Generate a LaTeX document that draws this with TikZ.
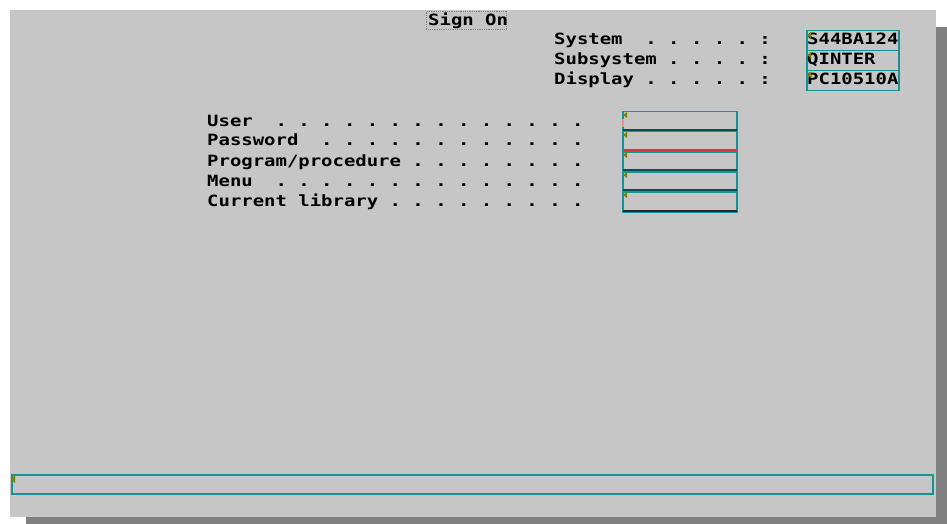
\documentclass[tikz,border=0pt]{standalone}
\usepackage{fontspec}
\newfontfamily\scr{DejaVu Sans Mono}[FakeStretch=1.222]
\definecolor{panel}{RGB}{198,198,198}
\definecolor{shadowc}{RGB}{128,128,128}
\definecolor{tealc}{RGB}{20,148,148}
\definecolor{darkteal}{RGB}{0,82,82}
\definecolor{olivec}{RGB}{128,128,0}
\definecolor{redc}{RGB}{220,52,52}
\definecolor{pinkc}{RGB}{240,140,140}
\begin{document}
\begin{tikzpicture}[x=1pt,y=-1pt,
  txt/.style={anchor=base west,inner sep=0pt,font=\scr\bfseries\fontsize{15.5pt}{18pt}\selectfont\frenchspacing,text=black},
  field/.style={draw=tealc,line width=1.5pt,anchor=north west,inner sep=0pt,minimum height=20pt},
  cursormark/.style={fill=olivec},
]
\useasboundingbox (0,0) rectangle (947,524);
\fill[white] (0,0) rectangle (947,524);
\fill[shadowc] (26,27) rectangle (947,524);
\fill[panel] (10,10) rectangle (936,517);

% title
\node[draw=shadowc,densely dotted,line width=0.8pt,anchor=north west,minimum width=80pt,minimum height=18pt,inner sep=0pt] (titlebox) at (426,11) {};
\node[txt] (title) at (428,26) {Sign~On};

% system info
\node[txt] (lsys) at (554,45) {System~~.~.~.~.~.~:};
\node[txt] (lsub) at (554,65) {Subsystem~.~.~.~.~:};
\node[txt] (ldis) at (554,85) {Display~.~.~.~.~.~:};
\node[field,minimum width=92pt] (fsys) at (806,30) {};
\node[field,minimum width=92pt] (fsub) at (806,50) {};
\node[field,minimum width=92pt] (fdis) at (806,70) {};
\node[txt] (vsys) at (807,45) {S44BA124};
\node[txt] (vsub) at (807,65) {QINTER};
\node[txt] (vdis) at (807,85) {PC10510A};
\foreach \yy in {31,51,71}{\fill[cursormark] (807,\yy+4) -- (811,\yy+1) -- (811,\yy+7) -- cycle;}

% sign-on fields
\node[txt] (luser) at (207,126) {User~~.~.~.~.~.~.~.~.~.~.~.~.~.~.};
\node[txt] (lpass) at (207,146) {Password~~.~.~.~.~.~.~.~.~.~.~.~.};
\node[txt] (lprog) at (207,166) {Program/procedure~.~.~.~.~.~.~.~.};
\node[txt] (lmenu) at (207,186) {Menu~~.~.~.~.~.~.~.~.~.~.~.~.~.~.};
\node[txt] (llib) at (207,206) {Current~library~.~.~.~.~.~.~.~.~.};

\node[field,minimum width=114pt] (fuser) at (622,111) {};
\node[field,minimum width=114pt] (fpass) at (622,131) {};
\node[field,minimum width=114pt] (fprog) at (622,151) {};
\node[field,minimum width=114pt] (fmenu) at (622,171) {};
\node[field,minimum width=114pt] (flib) at (622,191) {};

\draw[darkteal,line width=2.5pt] ([xshift=1pt,yshift=2.5pt]fuser.south west) -- ([xshift=-1pt,yshift=2.5pt]fuser.south east);
\draw[redc,line width=2pt] ([xshift=1pt,yshift=2.5pt]fpass.south west) -- ([xshift=-1pt,yshift=2.5pt]fpass.south east);
\draw[darkteal,line width=2.5pt] ([xshift=1pt,yshift=2.5pt]fprog.south west) -- ([xshift=-1pt,yshift=2.5pt]fprog.south east);
\draw[darkteal,line width=2.5pt] ([xshift=1pt,yshift=2.5pt]fmenu.south west) -- ([xshift=-1pt,yshift=2.5pt]fmenu.south east);
\draw[black!85,line width=2pt] ([xshift=1pt,yshift=2pt]flib.south west) -- ([xshift=-1pt,yshift=2pt]flib.south east);
\draw[pinkc,line width=1.5pt] (622.8,119) -- (622.8,127);
\foreach \yy in {111,131,151,171,191}{\fill[cursormark] (623,\yy+4) -- (627,\yy+1) -- (627,\yy+7) -- cycle;}

% message line
\node[field,minimum width=921pt,minimum height=19pt] (fmsg) at (11,474) {};
\fill[cursormark] (11,479) -- (15,475) -- (15,483) -- cycle;
\end{tikzpicture}
\end{document}
